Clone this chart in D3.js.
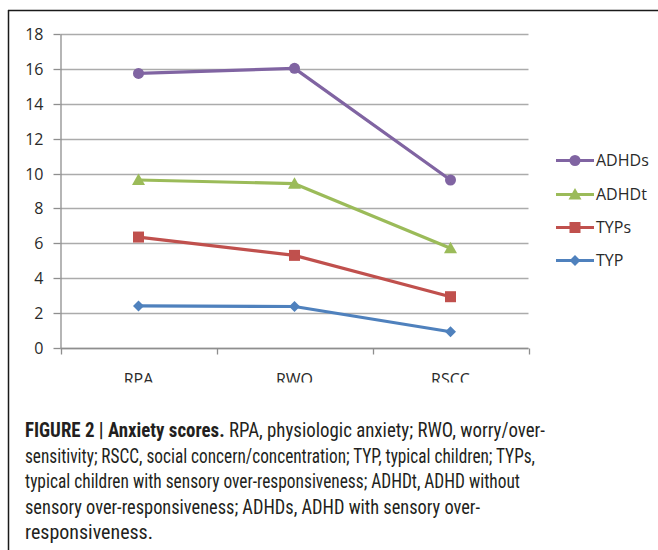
<!DOCTYPE html>
<html>
<head>
<meta charset="utf-8">
<script src="https://cdn.jsdelivr.net/npm/d3@7"></script>
<style>
  html, body { margin: 0; padding: 0; background: #fff; }
  svg { display: block; }
</style>
</head>
<body>
<svg id="chart" width="658" height="550"></svg>
<script>
const categories = ["RPA", "RWO", "RSCC"];
const seriesNames = ["ADHDs", "ADHDt", "TYPs", "TYP"];
const ADHDs = [15.74, 16.03, 9.63];
const ADHDt = [9.63, 9.42, 5.72];
const TYPs = [6.36, 5.31, 2.94];
const TYP = [2.41, 2.38, 0.93];
const yTicks = [0, 2, 4, 6, 8, 10, 12, 14, 16, 18];
const colors = ["#8064A2", "#9BBB59", "#C0504D", "#4F81BD"];
const markers = ["circle", "triangle", "square", "diamond"];
const captionLines = [
  [["FIGURE 2 | Anxiety scores.", true], [" RPA, physiologic anxiety; RWO, worry/over-", false]],
  [["sensitivity; RSCC, social concern/concentration; TYP, typical children; TYPs,", false]],
  [["typical children with sensory over-responsiveness; ADHDt, ADHD without", false]],
  [["sensory over-responsiveness; ADHDs, ADHD with sensory over-", false]],
  [["responsiveness.", false]]
];

(function () {
const series = [ADHDs, ADHDt, TYPs, TYP].map((v, i) => ({ name: seriesNames[i], values: v, color: colors[i], marker: markers[i] }));

const svg = d3.select("#chart");
const axisFont = "'Open Sans', 'DejaVu Sans', sans-serif";

// outer frame
svg.append("line").attr("x1", 8).attr("x2", 658).attr("y1", 10.5).attr("y2", 10.5).attr("stroke", "#1a1a1a").attr("stroke-width", 1.5);
svg.append("line").attr("x1", 8.5).attr("x2", 8.5).attr("y1", 10).attr("y2", 550).attr("stroke", "#1a1a1a").attr("stroke-width", 1.5);

const pLeft = 60.5, pRight = 528.5, pTop = 34, pBottom = 348;
const x = d3.scaleBand().domain(categories).range([pLeft, pRight]).padding(0);
const y = d3.scaleLinear().domain([0, 18]).range([pBottom, pTop]);

const defs = svg.append("defs");
defs.append("clipPath").attr("id", "labclip").append("rect").attr("x", 0).attr("y", -20).attr("width", 658).attr("height", 54);

// gridlines
svg.append("g").selectAll("line").data(yTicks).join("line")
  .attr("x1", pLeft).attr("x2", pRight)
  .attr("y1", d => Math.round(y(d)) + 0.5).attr("y2", d => Math.round(y(d)) + 0.5)
  .attr("stroke", "#ababab").attr("stroke-width", 1.3);

// y axis
const yAxis = svg.append("g").attr("transform", `translate(${pLeft},0)`)
  .call(d3.axisLeft(y).tickValues(yTicks).tickSize(7).tickPadding(10).tickSizeOuter(0));
yAxis.select(".domain").attr("stroke", "#8e8e8e").attr("stroke-width", 1.3);
yAxis.selectAll(".tick line").attr("stroke", "#8e8e8e").attr("stroke-width", 1.3);
yAxis.selectAll(".tick text").attr("font-family", axisFont).attr("font-size", 16).attr("fill", "#2a2a2a");
yAxis.selectAll(".tick").attr("transform", d => `translate(0,${Math.round(y(d)) + 0.5})`);

// x axis
const xAxis = svg.append("g").attr("transform", `translate(0,${pBottom + 0.5})`).attr("clip-path", "url(#labclip)");
xAxis.append("line").attr("x1", pLeft).attr("x2", pRight).attr("stroke", "#8e8e8e").attr("stroke-width", 1.3);
const xEdges = categories.map(c => x(c)).concat([x(categories[categories.length - 1]) + x.bandwidth()]);
xAxis.selectAll("line.xt").data(xEdges).join("line").attr("class", "xt")
  .attr("x1", d => Math.round(d) + 0.5).attr("x2", d => Math.round(d) + 0.5).attr("y1", 0).attr("y2", 6)
  .attr("stroke", "#8e8e8e").attr("stroke-width", 1.3);
xAxis.selectAll("text").data(categories).join("text")
  .attr("x", d => x(d) + x.bandwidth() / 2).attr("y", 36)
  .attr("text-anchor", "middle").attr("font-family", axisFont).attr("font-size", 16).attr("fill", "#2a2a2a")
  .text(d => d);

const cx = c => x(c) + x.bandwidth() / 2;
const line = d3.line().x((d, i) => cx(categories[i])).y(d => y(d));

function drawMarker(g, type, color) {
  if (type === "circle") g.append("circle").attr("r", 5.5).attr("fill", color);
  else if (type === "triangle") g.append("path").attr("d", "M0,-6.5L6.5,5L-6.5,5Z").attr("fill", color);
  else if (type === "square") g.append("rect").attr("x", -5.5).attr("y", -5.5).attr("width", 11).attr("height", 11).attr("fill", color);
  else g.append("path").attr("d", "M0,-5.5L5.5,0L0,5.5L-5.5,0Z").attr("fill", color);
}

series.slice().reverse().forEach(s => {
  svg.append("path").datum(s.values).attr("d", line).attr("fill", "none")
    .attr("stroke", s.color).attr("stroke-width", 3.2).attr("stroke-linejoin", "round");
  s.values.forEach((v, i) => {
    const g = svg.append("g").attr("transform", `translate(${cx(categories[i])},${y(v)})`);
    drawMarker(g, s.marker, s.color);
  });
});

// legend
const legY = [160.5, 194.5, 227.5, 260.5];
series.forEach((s, i) => {
  const g = svg.append("g").attr("transform", `translate(0,${legY[i]})`);
  g.append("line").attr("x1", 556).attr("x2", 594).attr("stroke", s.color).attr("stroke-width", 3.2);
  const mg = g.append("g").attr("transform", "translate(575,0)");
  drawMarker(mg, s.marker, s.color);
  g.append("text").attr("x", 596).attr("y", 5.5).attr("font-family", axisFont).attr("font-size", 16).attr("fill", "#2a2a2a").text(s.name);
});

// caption
const capFont = "'Liberation Sans Narrow', 'Arial Narrow', 'Roboto Condensed', 'Liberation Sans', sans-serif";
const capW = [520, 510, 495, 455, 128];
const capY = [437, 463, 488, 514, 539];
captionLines.forEach((parts, i) => {
  const t = svg.append("text").attr("x", 25).attr("y", capY[i])
    .attr("font-family", capFont).attr("font-size", 19.5).attr("fill", "#231f20")
    .attr("textLength", capW[i]).attr("lengthAdjust", "spacingAndGlyphs");
  parts.forEach(p => t.append("tspan").attr("font-weight", p[1] ? "bold" : "normal").text(p[0]));
});
})();
</script>
</body>
</html>
